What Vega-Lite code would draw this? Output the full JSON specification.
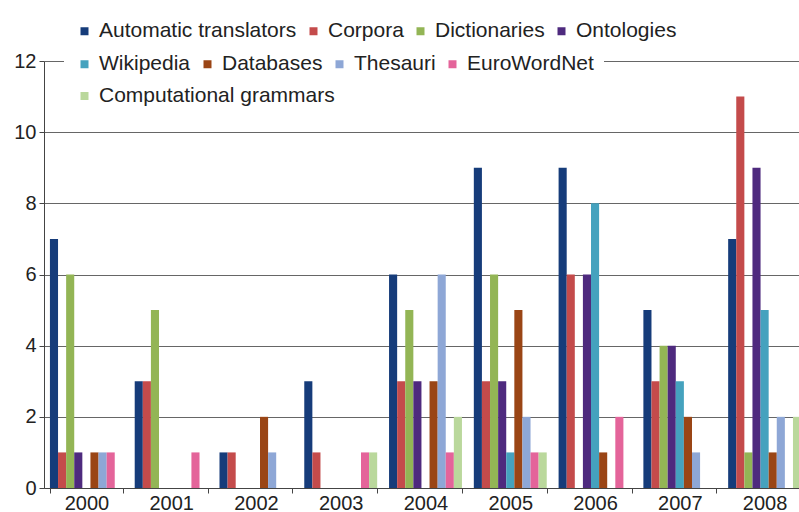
{
  "$schema": "https://vega.github.io/schema/vega-lite/v6.json",
  "width": 755,
  "height": 427,
  "autosize": "none",
  "padding": {"left": 44, "top": 61, "right": 0, "bottom": 24},
  "background": "white",
  "config": {
    "view": {"stroke": null},
    "font": "Liberation Sans",
    "axis": {"labelFont": "Liberation Sans", "labelColor": "#222222", "labelFontSize": 20},
    "legend": {
      "title": null,
      "orient": "none",
      "direction": "horizontal",
      "fillColor": "white",
      "padding": 10,
      "symbolType": "square",
      "symbolSize": 64,
      "symbolStrokeWidth": 0,
      "labelFont": "Liberation Sans",
      "labelFontSize": 21,
      "labelColor": "#222222",
      "labelOffset": 4,
      "columnPadding": 6,
      "labelLimit": 400
    }
  },
  "data": {
    "values": [
      {"year": "2000", "resource": "Automatic translators", "count": 7},
      {"year": "2000", "resource": "Corpora", "count": 1},
      {"year": "2000", "resource": "Dictionaries", "count": 6},
      {"year": "2000", "resource": "Ontologies", "count": 1},
      {"year": "2000", "resource": "Wikipedia", "count": 0},
      {"year": "2000", "resource": "Databases", "count": 1},
      {"year": "2000", "resource": "Thesauri", "count": 1},
      {"year": "2000", "resource": "EuroWordNet", "count": 1},
      {"year": "2000", "resource": "Computational grammars", "count": 0},
      {"year": "2001", "resource": "Automatic translators", "count": 3},
      {"year": "2001", "resource": "Corpora", "count": 3},
      {"year": "2001", "resource": "Dictionaries", "count": 5},
      {"year": "2001", "resource": "Ontologies", "count": 0},
      {"year": "2001", "resource": "Wikipedia", "count": 0},
      {"year": "2001", "resource": "Databases", "count": 0},
      {"year": "2001", "resource": "Thesauri", "count": 0},
      {"year": "2001", "resource": "EuroWordNet", "count": 1},
      {"year": "2001", "resource": "Computational grammars", "count": 0},
      {"year": "2002", "resource": "Automatic translators", "count": 1},
      {"year": "2002", "resource": "Corpora", "count": 1},
      {"year": "2002", "resource": "Dictionaries", "count": 0},
      {"year": "2002", "resource": "Ontologies", "count": 0},
      {"year": "2002", "resource": "Wikipedia", "count": 0},
      {"year": "2002", "resource": "Databases", "count": 2},
      {"year": "2002", "resource": "Thesauri", "count": 1},
      {"year": "2002", "resource": "EuroWordNet", "count": 0},
      {"year": "2002", "resource": "Computational grammars", "count": 0},
      {"year": "2003", "resource": "Automatic translators", "count": 3},
      {"year": "2003", "resource": "Corpora", "count": 1},
      {"year": "2003", "resource": "Dictionaries", "count": 0},
      {"year": "2003", "resource": "Ontologies", "count": 0},
      {"year": "2003", "resource": "Wikipedia", "count": 0},
      {"year": "2003", "resource": "Databases", "count": 0},
      {"year": "2003", "resource": "Thesauri", "count": 0},
      {"year": "2003", "resource": "EuroWordNet", "count": 1},
      {"year": "2003", "resource": "Computational grammars", "count": 1},
      {"year": "2004", "resource": "Automatic translators", "count": 6},
      {"year": "2004", "resource": "Corpora", "count": 3},
      {"year": "2004", "resource": "Dictionaries", "count": 5},
      {"year": "2004", "resource": "Ontologies", "count": 3},
      {"year": "2004", "resource": "Wikipedia", "count": 0},
      {"year": "2004", "resource": "Databases", "count": 3},
      {"year": "2004", "resource": "Thesauri", "count": 6},
      {"year": "2004", "resource": "EuroWordNet", "count": 1},
      {"year": "2004", "resource": "Computational grammars", "count": 2},
      {"year": "2005", "resource": "Automatic translators", "count": 9},
      {"year": "2005", "resource": "Corpora", "count": 3},
      {"year": "2005", "resource": "Dictionaries", "count": 6},
      {"year": "2005", "resource": "Ontologies", "count": 3},
      {"year": "2005", "resource": "Wikipedia", "count": 1},
      {"year": "2005", "resource": "Databases", "count": 5},
      {"year": "2005", "resource": "Thesauri", "count": 2},
      {"year": "2005", "resource": "EuroWordNet", "count": 1},
      {"year": "2005", "resource": "Computational grammars", "count": 1},
      {"year": "2006", "resource": "Automatic translators", "count": 9},
      {"year": "2006", "resource": "Corpora", "count": 6},
      {"year": "2006", "resource": "Dictionaries", "count": 0},
      {"year": "2006", "resource": "Ontologies", "count": 6},
      {"year": "2006", "resource": "Wikipedia", "count": 8},
      {"year": "2006", "resource": "Databases", "count": 1},
      {"year": "2006", "resource": "Thesauri", "count": 0},
      {"year": "2006", "resource": "EuroWordNet", "count": 2},
      {"year": "2006", "resource": "Computational grammars", "count": 0},
      {"year": "2007", "resource": "Automatic translators", "count": 5},
      {"year": "2007", "resource": "Corpora", "count": 3},
      {"year": "2007", "resource": "Dictionaries", "count": 4},
      {"year": "2007", "resource": "Ontologies", "count": 4},
      {"year": "2007", "resource": "Wikipedia", "count": 3},
      {"year": "2007", "resource": "Databases", "count": 2},
      {"year": "2007", "resource": "Thesauri", "count": 1},
      {"year": "2007", "resource": "EuroWordNet", "count": 0},
      {"year": "2007", "resource": "Computational grammars", "count": 0},
      {"year": "2008", "resource": "Automatic translators", "count": 7},
      {"year": "2008", "resource": "Corpora", "count": 11},
      {"year": "2008", "resource": "Dictionaries", "count": 1},
      {"year": "2008", "resource": "Ontologies", "count": 9},
      {"year": "2008", "resource": "Wikipedia", "count": 5},
      {"year": "2008", "resource": "Databases", "count": 1},
      {"year": "2008", "resource": "Thesauri", "count": 2},
      {"year": "2008", "resource": "EuroWordNet", "count": 0},
      {"year": "2008", "resource": "Computational grammars", "count": 2}
    ]
  },
  "encoding": {
    "x": {
      "field": "year",
      "type": "nominal",
      "scale": {"range": [0, 763], "paddingInner": 0.14, "paddingOuter": 0.07},
      "axis": {
        "title": null,
        "labelAngle": 0,
        "tickBand": "extent",
        "domainColor": "#444444",
        "tickColor": "#444444",
        "tickSize": 5,
        "labelPadding": 0,
        "grid": false
      }
    },
    "xOffset": {
      "field": "resource",
      "type": "nominal",
      "scale": {
        "domain": ["Automatic translators", "Corpora", "Dictionaries", "Ontologies", "Wikipedia", "Databases", "Thesauri", "EuroWordNet", "Computational grammars"],
        "paddingInner": 0,
        "paddingOuter": 0
      }
    },
    "y": {
      "field": "count",
      "type": "quantitative",
      "scale": {"domain": [0, 12], "nice": false},
      "axis": {
        "title": null,
        "values": [0, 2, 4, 6, 8, 10, 12],
        "grid": true,
        "gridColor": "#666666",
        "gridWidth": 1,
        "domainColor": "#444444",
        "tickColor": "#444444",
        "tickSize": 5,
        "labelPadding": 3
      }
    }
  },
  "layer": [
    {
      "transform": [{"filter": {"field": "resource", "oneOf": ["Automatic translators", "Corpora", "Dictionaries", "Ontologies"]}}],
      "mark": {"type": "bar"},
      "encoding": {
        "color": {
          "field": "resource",
          "type": "nominal",
          "scale": {
            "domain": ["Automatic translators", "Corpora", "Dictionaries", "Ontologies"],
            "range": ["#163C7A", "#C44B4B", "#93B555", "#4E2A7E"]
          },
          "legend": {"legendX": 20, "legendY": -50.5}
        }
      }
    },
    {
      "transform": [{"filter": {"field": "resource", "oneOf": ["Wikipedia", "Databases", "Thesauri", "EuroWordNet"]}}],
      "mark": {"type": "bar"},
      "encoding": {
        "color": {
          "field": "resource",
          "type": "nominal",
          "scale": {
            "domain": ["Wikipedia", "Databases", "Thesauri", "EuroWordNet"],
            "range": ["#45A2BE", "#9A4515", "#8EA7D6", "#E4649A"]
          },
          "legend": {"legendX": 20, "legendY": -17.5}
        }
      }
    },
    {
      "transform": [{"filter": {"field": "resource", "oneOf": ["Computational grammars"]}}],
      "mark": {"type": "bar"},
      "encoding": {
        "color": {
          "field": "resource",
          "type": "nominal",
          "scale": {
            "domain": ["Computational grammars"],
            "range": ["#BAD89C"]
          },
          "legend": {"legendX": 20, "legendY": 14.5}
        }
      }
    }
  ],
  "resolve": {"scale": {"color": "independent"}, "legend": {"color": "independent"}}
}
